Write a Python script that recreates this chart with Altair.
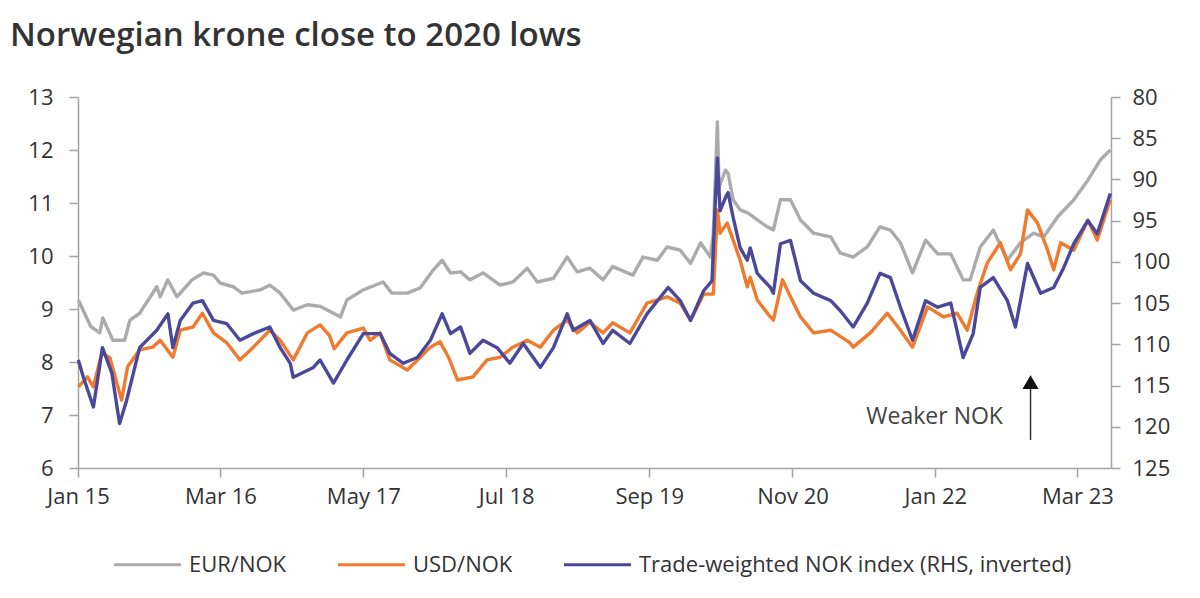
import altair as alt
import pandas as pd

# ---------------- data ----------------
eur_dates = ["2015-01-02","2015-02-08","2015-03-07","2015-03-16","2015-04-15","2015-05-20","2015-06-05","2015-07-04",
             "2015-08-24","2015-09-03","2015-09-26","2015-10-23","2015-12-07","2016-01-10","2016-02-09","2016-02-29",
             "2016-04-08","2016-05-04","2016-06-27","2016-07-26","2016-08-26","2016-10-04","2016-11-15","2016-12-23",
             "2017-02-22","2017-03-13","2017-05-01","2017-06-29","2017-07-25","2017-09-09","2017-10-18","2017-11-26",
             "2017-12-22","2018-01-16","2018-02-15","2018-03-15","2018-04-23","2018-06-13","2018-07-21","2018-09-02",
             "2018-10-02","2018-11-19","2018-12-30","2019-01-29","2019-03-08","2019-04-16","2019-05-15","2019-07-14",
             "2019-08-13","2019-09-25","2019-10-24","2019-12-02","2020-01-02","2020-02-01","2020-03-01","2020-03-10",
             "2020-03-22","2020-03-27","2020-04-15","2020-04-23","2020-05-08","2020-05-29","2020-06-22","2020-07-19",
             "2020-08-18","2020-09-05","2020-09-26","2020-10-26","2020-11-25","2021-01-03","2021-02-23","2021-03-23",
             "2021-05-01","2021-06-12","2021-07-20","2021-08-20","2021-09-19","2021-10-25","2021-12-03","2022-01-08",
             "2022-02-16","2022-03-25","2022-04-15","2022-05-15","2022-06-23","2022-08-04","2022-09-12","2022-10-21",
             "2022-11-20","2023-01-01","2023-02-18","2023-04-01","2023-05-08","2023-06-07"]
eur_values = [9.17, 8.67, 8.55, 8.83, 8.41, 8.41, 8.79, 8.92,
              9.42, 9.23, 9.55, 9.23, 9.55, 9.68, 9.64, 9.49,
              9.42, 9.30, 9.36, 9.45, 9.30, 8.98, 9.08, 9.05,
              8.85, 9.17, 9.36, 9.51, 9.30, 9.30, 9.40, 9.74,
              9.92, 9.68, 9.70, 9.55, 9.68, 9.45, 9.51, 9.77,
              9.51, 9.58, 9.98, 9.70, 9.77, 9.55, 9.80, 9.64,
              9.98, 9.92, 10.17, 10.11, 9.86, 10.25, 9.98, 10.43,
              12.53, 11.30, 11.62, 11.56, 11.06, 10.87, 10.81, 10.68,
              10.55, 10.49, 11.06, 11.06, 10.68, 10.43, 10.36, 10.06,
              9.98, 10.17, 10.55, 10.49, 10.25, 9.68, 10.30, 10.04,
              10.04, 9.55, 9.55, 10.17, 10.49, 9.92, 10.25, 10.43,
              10.36, 10.74, 11.06, 11.43, 11.81, 12.00]

usd_dates = ["2015-01-02","2015-01-29","2015-02-16","2015-03-13","2015-04-06","2015-05-11","2015-05-29","2015-07-04",
             "2015-08-12","2015-09-03","2015-10-11","2015-11-02","2015-12-10","2016-01-07","2016-02-09","2016-03-20",
             "2016-04-28","2016-06-07","2016-07-26","2016-08-26","2016-10-04","2016-11-15","2016-12-23","2017-01-20",
             "2017-02-03","2017-03-13","2017-05-01","2017-05-21","2017-06-20","2017-07-19","2017-09-09","2017-10-18",
             "2017-11-17","2017-12-16","2018-01-10","2018-02-06","2018-03-24","2018-05-05","2018-06-13","2018-07-21",
             "2018-09-02","2018-10-11","2018-11-19","2018-12-30","2019-01-29","2019-03-08","2019-04-16","2019-05-15",
             "2019-07-05","2019-08-25","2019-10-24","2019-12-02","2020-01-02","2020-02-10","2020-03-10","2020-03-22",
             "2020-03-30","2020-04-20","2020-05-08","2020-05-29","2020-06-19","2020-06-28","2020-07-19","2020-08-27",
             "2020-09-05","2020-10-02","2020-10-26","2020-11-25","2021-01-03","2021-02-23","2021-04-22","2021-05-01",
             "2021-06-21","2021-08-11","2021-09-19","2021-10-25","2021-12-09","2022-01-26","2022-03-07","2022-04-06",
             "2022-05-06","2022-06-05","2022-07-14","2022-08-13","2022-09-12","2022-10-03","2022-11-02","2022-12-02",
             "2022-12-20","2023-01-10","2023-02-18","2023-04-01","2023-04-29","2023-06-07"]
usd_values = [7.53, 7.72, 7.53, 8.17, 8.08, 7.28, 7.91, 8.23,
              8.28, 8.41, 8.09, 8.60, 8.66, 8.92, 8.55, 8.36,
              8.04, 8.28, 8.60, 8.41, 8.04, 8.55, 8.70, 8.50,
              8.25, 8.55, 8.64, 8.41, 8.55, 8.04, 7.85, 8.09,
              8.28, 8.38, 8.09, 7.66, 7.72, 8.04, 8.09, 8.28,
              8.41, 8.28, 8.60, 8.79, 8.55, 8.75, 8.55, 8.74,
              8.55, 9.11, 9.23, 9.11, 8.79, 9.28, 9.28, 10.87,
              10.43, 10.62, 10.30, 9.92, 9.42, 9.60, 9.17, 8.85,
              8.79, 9.55, 9.23, 8.85, 8.55, 8.60, 8.36, 8.28,
              8.55, 8.92, 8.60, 8.28, 9.04, 8.85, 8.92, 8.60,
              9.30, 9.87, 10.25, 9.74, 10.04, 10.87, 10.62, 10.11,
              9.74, 10.25, 10.11, 10.68, 10.30, 11.06]

twi_dates = ["2015-01-02","2015-01-17","2015-02-16","2015-03-15","2015-04-12","2015-05-05","2015-05-26","2015-07-04",
             "2015-08-24","2015-09-26","2015-10-11","2015-11-02","2015-12-10","2016-01-07","2016-02-09","2016-03-20",
             "2016-04-28","2016-06-07","2016-07-26","2016-08-26","2016-09-25","2016-10-04","2016-12-03","2016-12-23",
             "2017-02-01","2017-03-13","2017-05-01","2017-06-20","2017-07-19","2017-08-28","2017-10-09","2017-11-17",
             "2017-12-22","2018-01-16","2018-02-15","2018-03-15","2018-04-23","2018-06-04","2018-07-12","2018-08-21",
             "2018-10-11","2018-11-19","2018-12-30","2019-01-17","2019-03-08","2019-04-16","2019-05-15","2019-07-05",
             "2019-08-25","2019-10-27","2019-12-02","2020-01-02","2020-02-10","2020-03-06","2020-03-16","2020-03-22",
             "2020-03-30","2020-04-15","2020-04-23","2020-05-08","2020-05-29","2020-06-19","2020-06-28","2020-07-19",
             "2020-08-27","2020-09-05","2020-09-26","2020-10-26","2020-11-25","2021-01-03","2021-02-23","2021-03-23",
             "2021-05-01","2021-06-12","2021-07-20","2021-08-20","2021-09-19","2021-10-25","2021-12-03","2022-01-08",
             "2022-02-16","2022-03-25","2022-04-24","2022-05-15","2022-06-23","2022-08-04","2022-08-28","2022-10-03",
             "2022-11-11","2022-12-20","2023-01-19","2023-02-18","2023-04-01","2023-04-29","2023-06-07"]
twi_values = [111.9, 114.0, 117.6, 110.4, 113.5, 119.6, 116.8, 110.4,
              108.3, 106.3, 110.4, 107.1, 105.0, 104.7, 107.1, 107.5,
              109.5, 108.7, 107.9, 110.4, 112.3, 114.0, 112.8, 111.9,
              114.7, 111.9, 108.7, 108.7, 111.1, 112.3, 111.6, 109.5,
              106.3, 108.7, 107.9, 111.1, 109.5, 110.4, 112.3, 109.9,
              112.8, 110.4, 106.3, 108.3, 107.1, 109.9, 108.3, 109.9,
              106.3, 103.1, 104.7, 107.1, 103.5, 102.3, 92.6, 87.4,
              93.8, 92.2, 91.6, 94.6, 98.3, 99.8, 98.3, 101.4,
              103.1, 103.8, 97.8, 97.4, 102.3, 103.8, 104.7, 105.9,
              107.9, 105.0, 101.4, 101.9, 105.5, 109.5, 104.7, 105.5,
              105.0, 111.6, 108.7, 103.1, 101.9, 104.7, 107.9, 100.2,
              103.8, 103.1, 100.7, 97.8, 95.0, 96.6, 91.7]

series_names = ["EUR/NOK", "USD/NOK", "Trade-weighted NOK index (RHS, inverted)"]
series_colors = ["#ababab", "#f07a2e", "#4b489c"]

left_ticks = [6, 7, 8, 9, 10, 11, 12, 13]
right_ticks = [80, 85, 90, 95, 100, 105, 110, 115, 120, 125]
x_tick_dates = [(2015, 1), (2016, 3), (2017, 5), (2018, 7), (2019, 9), (2020, 11), (2022, 1), (2023, 3)]

annot_text = ["Weaker NOK"]
annot_text_date = ["2021-12-30"]
annot_text_value = [6.96]
arrow_date = ["2022-10-12"]
arrow_from = [6.53]
arrow_to = [7.50]
arrow_head = [7.62]

# ---------------- frames ----------------
left_df = pd.concat([
    pd.DataFrame({"date": eur_dates, "value": eur_values, "series": series_names[0]}),
    pd.DataFrame({"date": usd_dates, "value": usd_values, "series": series_names[1]}),
], ignore_index=True)
right_df = pd.DataFrame({"date": twi_dates, "value": twi_values, "series": series_names[2]})
text_df = pd.DataFrame({"date": annot_text_date, "value": annot_text_value, "label": annot_text})
arrow_df = pd.DataFrame({"date": arrow_date, "value": arrow_from, "value2": arrow_to, "head": arrow_head})

FONT = "Open Sans"
AX_COL = "#a3a3a3"
LAB_COL = "#333333"
TICK_FS = 22

x_scale = alt.Scale(type="utc", domain=[alt.DateTime(year=2015, month=1, date=1, utc=True),
                                        alt.DateTime(year=2023, month=6, date=9, utc=True)])
x_axis = alt.Axis(values=[alt.DateTime(year=y, month=m, date=1, utc=True) for y, m in x_tick_dates],
                  labelExpr="utcFormat(datum.value, '%b %y')", title=None, grid=False,
                  domainColor=AX_COL, domainWidth=1.5, tickColor=AX_COL, tickWidth=1.5, tickSize=9,
                  labelFont=FONT, labelFontSize=TICK_FS, labelColor=LAB_COL, labelPadding=9,
                  labelFlush=False, labelOverlap=False)
X = alt.X("date:T", scale=x_scale, axis=x_axis)

left_scale = alt.Scale(domain=[6, 13], nice=False, zero=False)
left_axis = alt.Axis(values=left_ticks, orient="left", title=None, grid=False,
                     domainColor=AX_COL, domainWidth=1.5, tickColor=AX_COL, tickWidth=1.5, tickSize=9,
                     labelFont=FONT, labelFontSize=TICK_FS, labelColor=LAB_COL, labelPadding=16)
right_scale = alt.Scale(domain=[80, 125], reverse=True, nice=False, zero=False)
right_axis = alt.Axis(values=right_ticks, orient="right", title=None, grid=False,
                      domainColor=AX_COL, domainWidth=1.5, tickColor=AX_COL, tickWidth=1.5, tickSize=9,
                      labelFont=FONT, labelFontSize=TICK_FS, labelColor=LAB_COL, labelPadding=12)

color = alt.Color("series:N",
                  scale=alt.Scale(domain=series_names, range=series_colors),
                  legend=alt.Legend(orient="none", legendX=34, legendY=432, direction="horizontal",
                                    title=None, symbolType="stroke", symbolSize=4500,
                                    symbolStrokeWidth=3, labelFont=FONT, labelFontSize=22,
                                    labelColor=LAB_COL, labelLimit=0, labelOffset=6,
                                    columnPadding=44))

lines_left = alt.Chart(left_df).mark_line(strokeWidth=3.4, strokeJoin="round").encode(
    x=X,
    y=alt.Y("value:Q", scale=left_scale, axis=left_axis),
    color=color,
    detail="series:N",
)
text_layer = alt.Chart(text_df).mark_text(font=FONT, fontSize=23, color="#444444",
                                          align="center", baseline="middle").encode(
    x=X,
    y=alt.Y("value:Q", scale=left_scale, axis=left_axis),
    text="label:N",
)
arrow_rule = alt.Chart(arrow_df).mark_rule(color="#333333", strokeWidth=1.5).encode(
    x=X,
    y=alt.Y("value:Q", scale=left_scale, axis=left_axis),
    y2="value2:Q",
)
arrow_tip = alt.Chart(arrow_df).mark_point(shape="triangle-up", filled=True, color="#111111",
                                           size=260, opacity=1).encode(
    x=X,
    y=alt.Y("head:Q", scale=left_scale, axis=left_axis),
)
left_group = alt.layer(lines_left, text_layer, arrow_rule, arrow_tip)

line_right = alt.Chart(right_df).mark_line(strokeWidth=3.4, strokeJoin="round").encode(
    x=X,
    y=alt.Y("value:Q", scale=right_scale, axis=right_axis),
    color=color,
)

chart = alt.layer(left_group, line_right).resolve_scale(y="independent").properties(
    width=1033,
    height=371,
    title=alt.TitleParams("Norwegian krone close to 2020 lows", anchor="start", frame="group",
                          font=FONT, fontSize=33, fontWeight=600, color="#333333",
                          dx=-68, offset=33),
    padding={"left": 70, "top": 89, "right": 81, "bottom": 122},
    autosize=alt.AutoSizeParams(type="none"),
).configure_view(stroke=None)

chart.save("out.html", embed_options={"renderer": "svg", "actions": False})
